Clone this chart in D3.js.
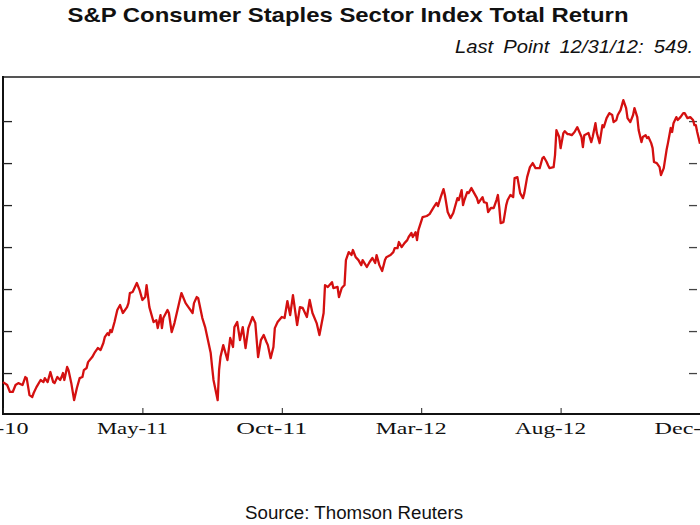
<!DOCTYPE html>
<html><head><meta charset="utf-8">
<script src="https://cdn.jsdelivr.net/npm/d3@7"></script>
<style>html,body{margin:0;padding:0;background:#fff;}svg{display:block;}</style>
</head><body>
<svg id="c" width="700" height="525"></svg>
<script>
// trading-day number since the first December 2010 session
const session = [0,3,5,7,9,11,14,16,17,19,21,22,24,27,29,30,32,34,36,37,39,41,42,43,44,46,47,49,51,53,55,57,58,60,61,64,66,68,70,72,73,75,76,77,78,80,82,84,86,89,90,91,93,96,98,100,102,103,105,108,110,111,113,114,115,118,119,121,123,126,128,131,133,136,137,139,140,143,145,147,149,150,151,154,155,156,158,161,163,165,166,168,170,172,174,176,179,181,183,185,187,189,190,192,194,195,197,200,202,204,205,206,208,211,213,215,218,220,222,225,227,230,231,233,236,237,240,241,243,245,246,248,250,251,253,255,257,258,261,263,265,267,268,270,272,274,275,278,280,281,283,284,286,288,290,291,293,294,296,297,298,301,304,306,309,311,312,314,316,317,319,321,323,324,326,327,329,330,331,333,334,336,338,340,341,344,345,347,348,350,352,354,355,356,357,359,361,362,364,366,367,369,371,373,374,376,378,380,382,383,385,387,388,390,391,392,395,396,397,399,400,402,403,405,406,408,410,412,415,416,417,420,422,423,425,426,428,430,431,433,435,437,438,440,441,443,445,447,448,450,452,453,455,456,458,459,461,462,463,465,466,467,469,471,472,474,476,477,479,480,481,483,484,486,488,489,491,493,495,496,497,498,500];
const indexValue = [435.7,434.3,431.0,431.0,434.3,435.2,434.3,438.1,437.6,429.5,428.6,430.5,433.3,436.7,435.7,437.6,435.7,440.5,435.7,435.2,438.1,436.7,438.1,440.0,436.7,442.9,441.4,435.2,427.1,432.9,437.6,438.1,441.4,442.4,445.2,447.6,450.0,451.9,451.0,454.3,457.1,459.0,458.1,460.5,459.5,464.3,470.0,472.4,468.6,471.4,473.3,478.1,478.6,482.9,479.5,474.8,476.2,481.9,471.4,464.3,465.2,461.4,467.6,461.4,466.2,470.0,468.6,459.5,463.8,472.4,478.1,473.3,471.4,468.6,473.3,476.2,475.7,466.2,461.9,455.7,449.5,442.9,436.7,427.1,441.4,447.6,453.3,446.2,456.7,452.4,461.9,464.3,455.7,461.9,451.9,461.4,466.7,463.8,447.6,455.7,458.1,454.8,453.3,447.1,452.4,461.4,464.3,466.7,466.2,474.3,471.0,467.6,477.1,462.9,471.4,471.0,466.7,474.8,468.6,463.8,458.1,468.6,481.9,481.0,483.3,480.5,481.0,476.2,480.5,481.9,493.8,497.6,496.2,498.6,495.2,493.8,491.4,493.8,490.5,492.9,494.8,492.4,496.2,491.4,488.6,493.8,495.2,496.2,497.6,499.5,499.5,502.4,500.0,501.9,503.3,504.8,506.7,504.8,507.1,503.3,508.1,514.3,514.8,515.7,519.0,521.0,519.5,523.8,527.6,524.8,516.7,513.8,516.2,518.6,523.3,522.4,527.1,520.0,522.4,526.2,525.7,528.1,525.7,523.3,521.0,523.8,521.4,521.0,516.7,518.6,518.6,522.4,524.8,519.0,511.4,511.9,520.0,522.4,524.8,523.8,532.9,533.3,525.7,523.3,525.7,533.3,538.1,540.0,537.6,537.6,537.6,542.4,542.9,540.5,539.0,537.6,538.1,543.8,555.7,552.4,547.1,554.3,555.2,553.8,553.8,553.3,554.8,557.1,552.4,547.6,553.3,554.3,550.0,552.4,559.0,554.3,549.5,558.1,557.1,561.4,563.8,562.9,559.5,560.5,562.9,565.2,570.0,566.2,561.4,559.5,562.9,566.2,561.9,555.7,550.0,552.4,553.3,551.9,552.4,549.5,547.1,540.5,540.0,538.1,534.3,537.6,546.2,549.5,556.7,554.8,559.0,561.9,560.5,561.9,563.8,563.8,561.4,561.9,560.5,558.1,558.1,554.8,549.2];
const xTickSessions = [0,100,200,300,400,500];
const xTickLabels = ["Dec-10","May-11","Oct-11","Mar-12","Aug-12","Dec-12"];
const yTicks = [440,460,480,500,520,540,560];
const title = "S&P Consumer Staples Sector Index Total Return";
const subtitle = "Last Point 12/31/12: 549.";
const source = "Source: Thomson Reuters";

const svg = d3.select("#c");
const L = 3, R = 700, T = 77, B = 414;
const x = d3.scaleLinear().domain([0,500]).range([L,R]);
const y = d3.scaleLinear().domain([420.5,581]).range([B,T]);

// title & subtitle
svg.append("text").attr("x",348).attr("y",22).attr("text-anchor","middle")
  .attr("font-family","Liberation Sans, Arial, sans-serif").attr("font-weight","bold")
  .attr("font-size",21).attr("fill","#111").attr("textLength",561).attr("lengthAdjust","spacingAndGlyphs").text(title);
svg.append("text").attr("x",455).attr("y",53)
  .attr("font-family","Liberation Sans, Arial, sans-serif").attr("font-style","italic")
  .attr("font-size",18).attr("word-spacing",4).attr("fill","#111").attr("textLength",238).attr("lengthAdjust","spacingAndGlyphs").text(subtitle);

// frame
svg.append("line").attr("x1",L).attr("x2",R).attr("y1",T).attr("y2",T).attr("stroke","#555").attr("stroke-width",2);
svg.append("line").attr("x1",L).attr("x2",L).attr("y1",T-1).attr("y2",B+1).attr("stroke","#111").attr("stroke-width",2);

// left y ticks (inside)
svg.append("g").attr("transform",`translate(${L},0)`)
  .call(d3.axisRight(y).tickValues(yTicks).tickSize(9).tickFormat(""))
  .call(g=>{g.select(".domain").remove();g.selectAll("line").attr("stroke","#222").attr("stroke-width",1.3);});
// right y ticks (inside)
svg.append("g").attr("transform",`translate(${R-3},0)`)
  .call(d3.axisLeft(y).tickValues(yTicks).tickSize(8).tickFormat(""))
  .call(g=>{g.select(".domain").remove();g.selectAll("line").attr("stroke","#444").attr("stroke-width",1.3);});

// x axis
const xa = svg.append("g").attr("transform",`translate(0,${B})`)
  .call(d3.axisTop(x).tickValues(xTickSessions).tickSize(6).tickFormat(""));
xa.select(".domain").remove();
xa.selectAll("line").attr("stroke","#222").attr("stroke-width",1);
svg.append("line").attr("x1",L-1).attr("x2",R).attr("y1",B).attr("y2",B).attr("stroke","#111").attr("stroke-width",2);
svg.append("g").selectAll("text").data(xTickSessions).join("text")
  .attr("x",d=>x(d)-10).attr("y",434).attr("text-anchor","middle")
  .attr("font-family","Liberation Serif, Times New Roman, serif").attr("font-size",17).attr("fill","#111")
  .attr("textLength",71).attr("lengthAdjust","spacingAndGlyphs")
  .text((d,i)=>xTickLabels[i]);

// line
const line = d3.line().x(d=>x(d[0])).y(d=>y(d[1]));
svg.append("path").datum(session.map((s,i)=>[s,indexValue[i]]))
  .attr("d",line).attr("fill","none").attr("stroke","#d41010").attr("stroke-width",2.3).attr("stroke-linejoin","round");

// source
svg.append("text").attr("x",354).attr("y",519).attr("text-anchor","middle")
  .attr("font-family","Liberation Sans, Arial, sans-serif").attr("font-size",18).attr("fill","#111")
  .attr("textLength",218).attr("lengthAdjust","spacingAndGlyphs").text(source);
</script>
</body></html>
